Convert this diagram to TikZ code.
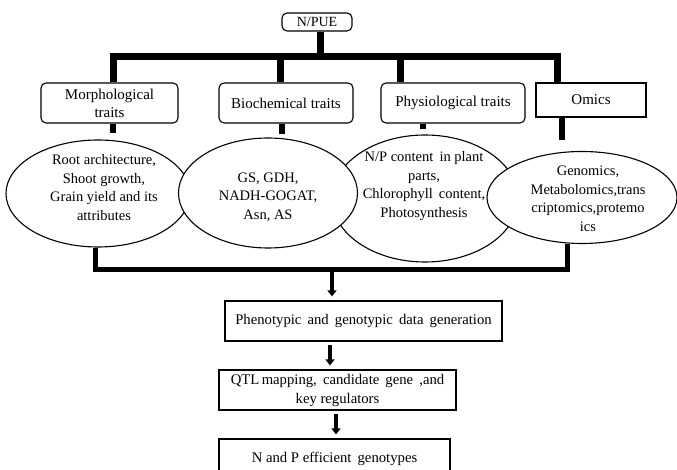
\documentclass[tikz,border=0pt]{standalone}
\usepackage{fontspec}
\setmainfont{Liberation Serif}
\usetikzlibrary{arrows.meta,shapes.geometric,calc}
\begin{document}
\begin{tikzpicture}[x=1pt,y=-1pt,
  rbox/.style={draw, rounded corners=5pt, line width=1.1pt, inner sep=0pt, align=center,
    font=\fontsize{15}{18}\selectfont},
  sbox/.style={draw, line width=1.2pt, inner sep=0pt, align=center,
    font=\fontsize{14.7}{19}\selectfont},
  oval/.style={draw, ellipse, fill=white, line width=1.1pt, inner sep=0pt},
  otext/.style={align=center, inner sep=0pt, font=\fontsize{14.5}{18.5}\selectfont},
  thickbar/.style={line width=7pt},
  thinbar/.style={line width=5pt},
  flowarrow/.style={line width=3.4pt, shorten >=4pt, -{Triangle[width=9pt,length=6pt]}}
]
\useasboundingbox (0,0) rectangle (677,470);

% top
\node[rbox, minimum width=70pt, minimum height=18pt, font=\fontsize{14}{16}\selectfont] (npue) at (317,22) {N/PUE};
\node[rbox, minimum width=137pt, minimum height=40pt] (morph) at (109.5,103) {Morphological\\traits};
\node[rbox, minimum width=134pt, minimum height=40pt] (bio) at (286,103) {Biochemical traits};
\node[rbox, minimum width=144pt, minimum height=40pt] (phys) at (453,103) {Physiological traits};
\node[sbox, minimum width=110pt, minimum height=34pt, font=\fontsize{15}{18}\selectfont] (omics) at (591,100) {Omics};

% tree coordinates
\coordinate (bl) at (113,56.5);
\coordinate (br) at (557,56.5);
\coordinate (stem) at (320,56.5);
\draw[thickbar] (npue.south -| stem) -- (stem);
\draw[thickbar] ([xshift=-3.5pt]bl) -- ([xshift=3.5pt]br);
\draw[thickbar] (bl) -- (morph.north -| bl);
\draw[thickbar] (bio.north -| 280,0) -- (280,56.5);
\draw[thickbar] (phys.north -| 400,0) -- (400,56.5);
\draw[thickbar] (br) -- (omics.north -| br);

% ellipses
\node[oval, minimum width=184pt, minimum height=107pt] (e1) at (98,193.5) {};
\node[oval, minimum width=186pt, minimum height=127pt] (e3) at (425,198.5) {};
\node[oval, minimum width=179pt, minimum height=110pt] (e2) at (268,193) {};
\node[oval, minimum width=190pt, minimum height=92pt] (e4) at (582,197.5) {};

\node[otext] (t1) at (104,187.5) {Root architecture,\\Shoot growth,\\Grain yield and its\\attributes};
\node[otext] (t2) at (268,197) {GS, GDH,\\NADH-GOGAT,\\Asn, AS};
\node[otext] (t3) at (424,186) {N/P content\, in plant\\parts,\\Chlorophyll\, content,\\Photosynthesis};
\node[otext] (t4) at (588,199) {Genomics,\\Metabolomics,trans\\criptomics,protemo\\ics};

% drops below boxes
\coordinate (d1) at (113,133);
\coordinate (d2) at (282,134);
\coordinate (d3) at (423,129);
\coordinate (d4) at (562,140);
\draw[line width=6pt] (morph.south -| d1) -- (d1);
\draw[line width=6pt] (bio.south -| d2) -- (d2);
\draw[line width=6pt] (phys.south -| d3) -- (d3);
\draw[line width=6pt] (omics.south -| d4) -- (d4);

% lower boxes
\node[sbox, minimum width=277pt, minimum height=40pt] (pheno) at (363.5,321) {Phenotypic\, and\, genotypic\, data\, generation};
\node[sbox, minimum width=237pt, minimum height=40pt] (qtl) at (337.5,390) {QTL\,mapping,\, candidate\, gene\, ,and\\key regulators};
\node[sbox, minimum width=231pt, minimum height=40pt] (final) at (334.5,459) {N and P efficient\, genotypes};

% bottom collector
\coordinate (cl) at (95,269.5);
\coordinate (cr) at (567,269.5);
\coordinate (cm) at (332,269.5);
\coordinate (a2) at (330,345);
\coordinate (a3) at (336,414);
\draw[thinbar] (e1.south -| cl) -- (cl) -- (cr) -- (e4.south -| cr);
\draw[flowarrow] (cm) -- (pheno.north -| cm);
\draw[flowarrow] (a2) -- (qtl.north -| a2);
\draw[flowarrow] (a3) -- (final.north -| a3);
\end{tikzpicture}
\end{document}
